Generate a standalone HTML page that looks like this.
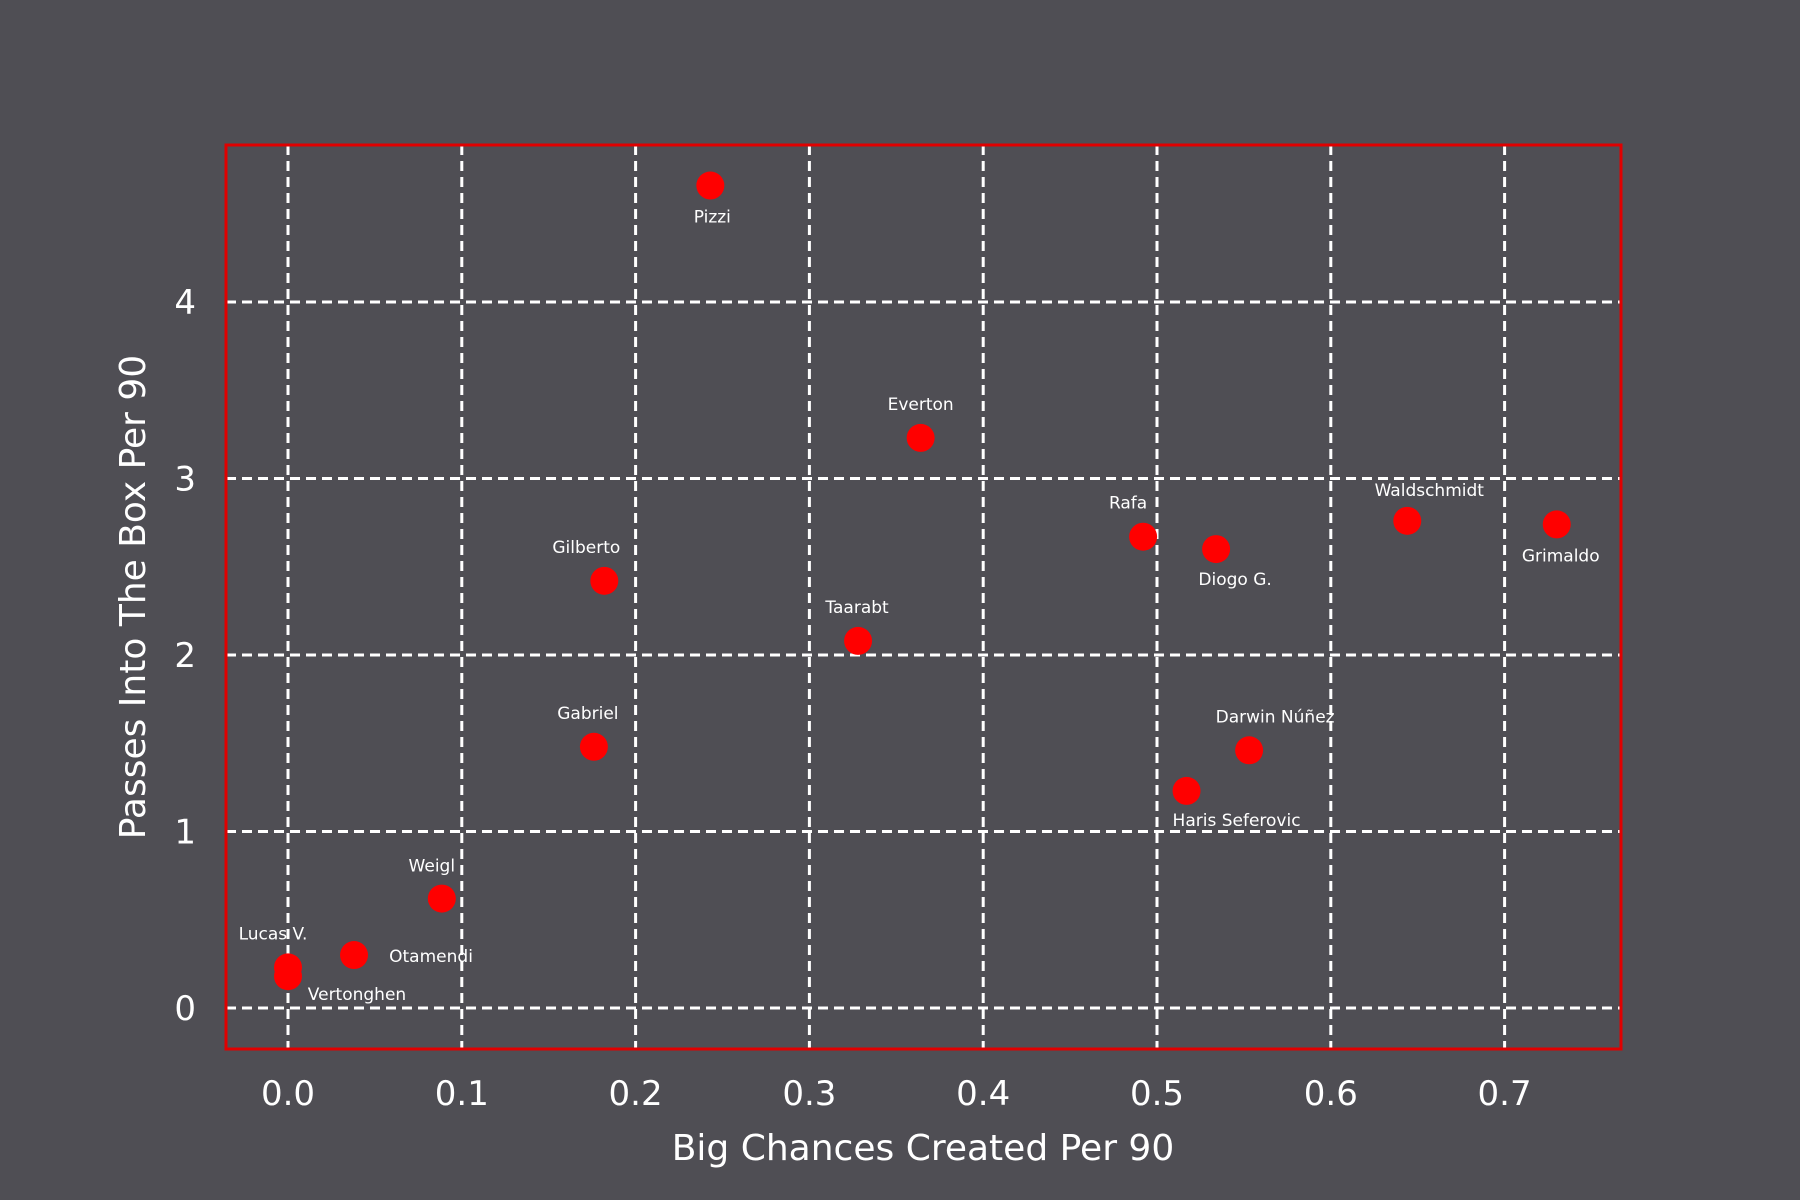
<!DOCTYPE html>
<html><head><meta charset="utf-8"><style>
html,body{margin:0;padding:0;background:#4f4e54;}
svg{display:block;font-family:"DejaVu Sans","Liberation Sans",sans-serif;}
</style></head><body>
<svg id="chart" width="1800" height="1200" viewBox="0 0 1800 1200" xmlns="http://www.w3.org/2000/svg">
<rect x="0" y="0" width="1800" height="1200" fill="#4f4e54"/>
<g id="grid"></g>
<g id="ticks"></g>
<g id="points"></g>
<rect x="226" y="145" width="1395" height="904" fill="none" stroke="#e00000" stroke-width="3"/>
<text x="923" y="1160" fill="#fff" font-size="36" text-anchor="middle">Big Chances Created Per 90</text>
<text transform="translate(145,597) rotate(-90)" fill="#fff" font-size="36" text-anchor="middle">Passes Into The Box Per 90</text>
</svg>
<script>
const players = ["Pizzi","Everton","Gilberto","Taarabt","Gabriel","Rafa","Diogo G.","Waldschmidt","Grimaldo","Darwin Núñez","Haris Seferovic","Weigl","Otamendi","Lucas V.","Vertonghen"];
const bigChances = [0.243,0.364,0.182,0.328,0.176,0.492,0.534,0.644,0.730,0.553,0.517,0.0885,0.038,0.0,0.0];
const passesBox = [4.66,3.23,2.42,2.08,1.48,2.67,2.60,2.76,2.74,1.46,1.23,0.62,0.30,0.23,0.18];
const xTicks = [0.0,0.1,0.2,0.3,0.4,0.5,0.6,0.7];
const xTickLabels = ["0.0","0.1","0.2","0.3","0.4","0.5","0.6","0.7"];
const yTicks = [0,1,2,3,4];
const yTickLabels = ["0","1","2","3","4"];
// label offsets (pixels) relative to each point
const labelDx = [2,0,-18,-1,-6,-15,19,22,4,26,50,-10,77,-15,69];
const labelDy = [31,-34,-34,-34,-34,-34,30,-31,31,-34,29,-33,1,-34,18];

const NS="http://www.w3.org/2000/svg";
const X0=226,X1=1621,Y0=145,Y1=1049;
function sx(v){return 288+v*1738;}
function sy(v){return 1008-v*176.5;}
function mk(tag,attrs,parent){const e=document.createElementNS(NS,tag);for(const k in attrs)e.setAttribute(k,attrs[k]);parent.appendChild(e);return e;}
const grid=document.getElementById('grid'),ticks=document.getElementById('ticks'),pts=document.getElementById('points');
xTicks.forEach((t,i)=>{
  const l=mk('line',{x1:sx(t),x2:sx(t),y1:Y0,y2:Y1,stroke:'#fff','stroke-width':3,'stroke-dasharray':'10,6'},grid);
  
  
  const tx=mk('text',{x:sx(t),y:1105,fill:'#fff','font-size':34,'text-anchor':'middle'},ticks);
  tx.textContent=xTickLabels[i];
  
  
});
yTicks.forEach((t,i)=>{
  const l=mk('line',{x1:X0,x2:X1,y1:sy(t),y2:sy(t),stroke:'#fff','stroke-width':3,'stroke-dasharray':'10,6'},grid);
  
  
  const tx=mk('text',{x:196,y:sy(t)+12,fill:'#fff','font-size':34,'text-anchor':'end'},ticks);
  tx.textContent=yTickLabels[i];
  
  
});
players.forEach((p,i)=>{
  const cx=sx(bigChances[i]),cy=sy(passesBox[i]);
  const c=mk('circle',{cx:cx,cy:cy,r:14,fill:'#ff0000'},pts);
  
  
  const t=mk('text',{x:cx+labelDx[i],y:cy+labelDy[i]+6,fill:'#fff','font-size':17,'text-anchor':'middle'},pts);
  t.textContent=p;
  
  
});
</script>
</body></html>
